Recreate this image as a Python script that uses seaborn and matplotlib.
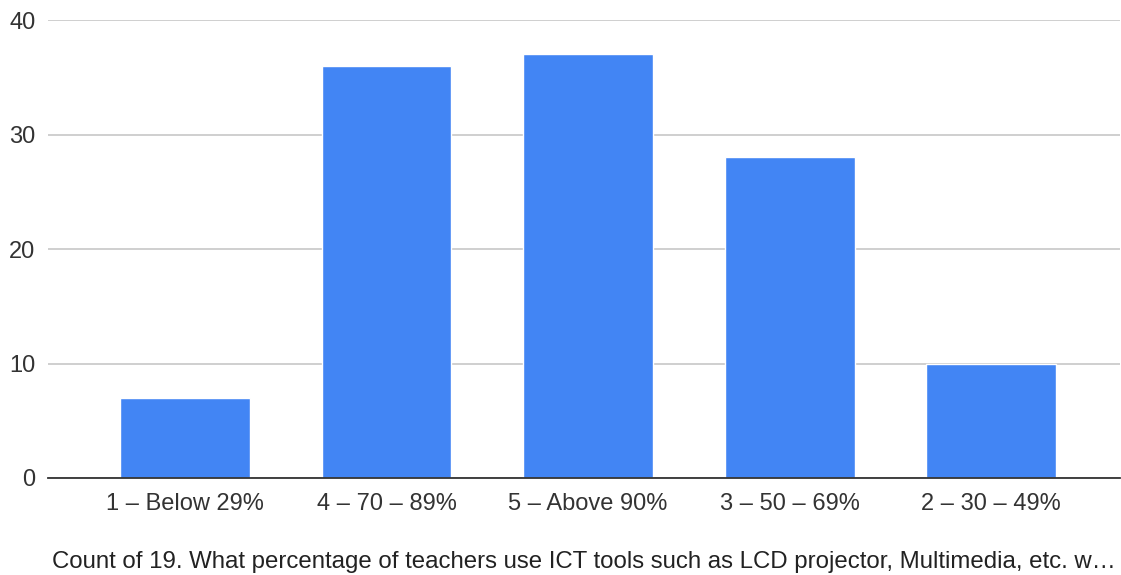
import matplotlib
matplotlib.use("Agg")
import matplotlib.pyplot as plt
import seaborn as sns
import pandas as pd

categories = ["1 – Below 29%", "4 – 70 – 89%", "5 – Above 90%", "3 – 50 – 69%", "2 – 30 – 49%"]
counts = [7, 36, 37, 28, 10]
y_ticks = [0, 10, 20, 30, 40]
x_title = ("Count of 19. What percentage of teachers use ICT tools such as LCD "
           "projector, Multimedia, etc. w…")

sns.set_theme(style="white")
plt.rcParams["font.family"] = ["Liberation Sans", "DejaVu Sans"]

df = pd.DataFrame({"category": categories, "count": counts})

fig = plt.figure(figsize=(11.21, 5.75), dpi=100)
ax = fig.add_axes([0.0428, 0.1687, 0.9563, 0.7965])

sns.barplot(data=df, x="category", y="count", color="#4285F4",
            saturation=1, width=0.645, ax=ax)

ax.set_ylim(0, 40)
ax.set_xlim(-0.68, 4.64)
ax.set_yticks(y_ticks)
ax.yaxis.grid(True, color="#cccccc", linewidth=1.3)
ax.set_axisbelow(True)

for side in ["left", "right", "top"]:
    ax.spines[side].set_visible(False)
ax.spines["bottom"].set_color("#333333")
ax.spines["bottom"].set_linewidth(1.3)
ax.spines["bottom"].set_zorder(5)

ax.tick_params(axis="y", length=0, pad=9, labelsize=17, labelcolor="#333333")
ax.tick_params(axis="x", length=0, pad=11, labelsize=17, labelcolor="#333333")

ax.set_ylabel("")
ax.set_xlabel(x_title, fontsize=17.3, color="#222222", labelpad=26)

fig.savefig("out.png", dpi=100, facecolor="white")
